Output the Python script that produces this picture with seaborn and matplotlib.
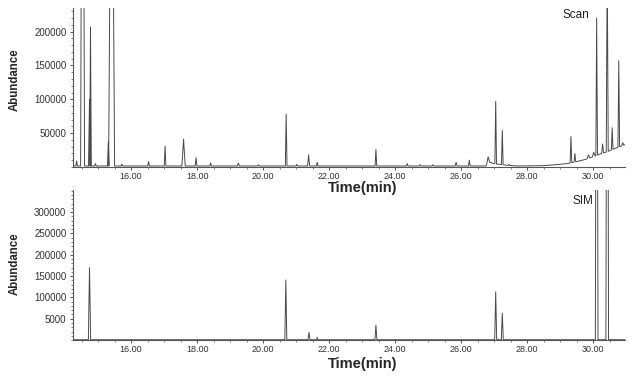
import numpy as np
import pandas as pd
import matplotlib
matplotlib.use("Agg")
import matplotlib.pyplot as plt
import seaborn as sns
from matplotlib.ticker import FixedLocator, FixedFormatter, MultipleLocator

# ---------------- data ----------------
# Scan trace: peak apex time (min), apex abundance, half width (min)
scan_peak_t = [14.35, 14.53, 14.74, 14.77, 14.92, 15.31, 15.41, 15.72, 16.53, 17.03,
               17.59, 17.97, 18.41, 19.25, 19.86, 20.70, 21.02, 21.38, 21.64, 23.42,
               24.37, 24.76, 25.14, 25.85, 26.25, 26.82, 27.05, 27.25, 27.45, 29.33,
               29.45, 29.86, 30.02, 30.11, 30.29, 30.43, 30.58, 30.78, 30.90]
scan_peak_h = [9000, 900000, 100000, 207000, 5000, 37000, 700000, 4000, 8000, 31000,
               41000, 14000, 6000, 6000, 3500, 78000, 4000, 18000, 7000, 26000,
               5000, 3500, 3500, 7000, 10000, 15000, 97000, 54000, 4000, 45000,
               20000, 18000, 22000, 220000, 34000, 300000, 58000, 157000, 36000]
scan_peak_w = [0.025, 0.06, 0.03, 0.025, 0.025, 0.025, 0.09, 0.025, 0.025, 0.025,
               0.05, 0.025, 0.025, 0.03, 0.025, 0.025, 0.025, 0.03, 0.025, 0.025,
               0.025, 0.025, 0.025, 0.03, 0.025, 0.05, 0.025, 0.025, 0.025, 0.025,
               0.025, 0.04, 0.04, 0.025, 0.03, 0.03, 0.025, 0.025, 0.03]
# Scan baseline drift
scan_base_t = [14.23, 26.75, 26.87, 27.0, 27.4, 27.7, 28.5, 28.9, 29.2, 29.5,
               29.75, 30.0, 30.2, 30.4, 30.6, 30.8, 30.97]
scan_base_y = [1500, 1500, 7000, 5000, 2500, 1500, 2000, 3500, 5000, 8000,
               11000, 15000, 19000, 22000, 26000, 30000, 33000]

# SIM trace
sim_peak_t = [14.74, 20.69, 21.39, 21.64, 23.42, 27.05, 27.25, 30.11, 30.43]
sim_peak_h = [170000, 141000, 18000, 6000, 35000, 113000, 63000, 1500000, 1500000]
sim_peak_w = [0.035, 0.03, 0.03, 0.025, 0.03, 0.03, 0.03, 0.04, 0.04]
sim_base_t = [14.23, 30.97]
sim_base_y = [800, 800]

x_ticks = [16, 18, 20, 22, 24, 26, 28, 30]
x_labels = ["16.00", "18.00", "20.00", "22.00", "24.00", "26.00", "28.00", "30.00"]
scan_yticks = [50000, 100000, 150000, 200000]
scan_ylabels = ["50000", "100000", "150000", "200000"]
sim_yticks = [50000, 100000, 150000, 200000, 250000, 300000]
sim_ylabels = ["5000", "100000", "150000", "200000", "250000", "300000"]


def build_trace(pt, ph, pw, bt, by):
    # each peak becomes foot - apex - foot on top of the baseline
    rows = []
    for t, y in zip(bt, by):
        if all(abs(t - c) > w for c, w in zip(pt, pw)):
            rows.append((t, t, y))
    for c, h, w in zip(pt, ph, pw):
        rows.append((c - 1e-6, c - w, np.interp(c - w, bt, by)))
        rows.append((c, c, h))
        rows.append((c + 1e-6, c + w, np.interp(c + w, bt, by)))
    rows.sort(key=lambda r: r[0])
    return pd.DataFrame({"time": [r[1] for r in rows], "abundance": [r[2] for r in rows]})


scan_df = build_trace(scan_peak_t, scan_peak_h, scan_peak_w, scan_base_t, scan_base_y)
sim_df = build_trace(sim_peak_t, sim_peak_h, sim_peak_w, sim_base_t, sim_base_y)

sns.set_style("ticks")
plt.rcParams["font.family"] = ["Liberation Sans", "DejaVu Sans"]

fig = plt.figure(figsize=(6.32, 3.77), dpi=100)
ax1 = fig.add_axes([0.115, 0.557, 0.874, 0.422])
ax2 = fig.add_axes([0.115, 0.098, 0.874, 0.398])

line_col = "#4a4a4a"
for ax, df, top, yt, yl in [(ax1, scan_df, 235000, scan_yticks, scan_ylabels),
                            (ax2, sim_df, 352000, sim_yticks, sim_ylabels)]:
    sns.lineplot(data=df, x="time", y="abundance", ax=ax, sort=False,
                 estimator=None, color=line_col, lw=0.7)
    ax.set_xlim(14.23, 30.97)
    ax.set_ylim(0, top)
    ax.xaxis.set_major_locator(FixedLocator(x_ticks))
    ax.xaxis.set_major_formatter(FixedFormatter(x_labels))
    ax.xaxis.set_minor_locator(MultipleLocator(0.5))
    ax.yaxis.set_major_locator(FixedLocator(yt))
    ax.yaxis.set_major_formatter(FixedFormatter(yl))
    ax.yaxis.set_minor_locator(MultipleLocator(10000))
    ax.tick_params(axis="x", which="major", labelsize=6.5, length=2.5, width=0.6, pad=1,
                   colors="#333333")
    ax.tick_params(axis="y", which="major", labelsize=7, length=2.5, width=0.6, pad=2,
                   colors="#333333")
    ax.tick_params(which="minor", length=1.5, width=0.5, colors="#555555")
    for s in ["top", "right"]:
        ax.spines[s].set_visible(False)
    for s in ["left", "bottom"]:
        ax.spines[s].set_color("#555555")
        ax.spines[s].set_linewidth(0.8)
    ax.set_xlabel("")
    ax.set_ylabel("")

ax1.text(0.935, 0.955, "Scan", transform=ax1.transAxes, ha="right", va="center",
         fontsize=8.5, color="#222222")
ax2.text(0.943, 0.93, "SIM", transform=ax2.transAxes, ha="right", va="center",
         fontsize=8.5, color="#222222")

fig.text(363 / 632, 1 - 188 / 377, "Time(min)", ha="center", va="center",
         fontsize=10.5, fontweight="bold")
fig.text(363 / 632, 1 - 364 / 377, "Time(min)", ha="center", va="center",
         fontsize=10.5, fontweight="bold")
fig.text(15 / 632, 1 - 80 / 377, "Abundance", ha="center", va="center",
         rotation=90, fontsize=8.3, fontweight="bold")
fig.text(15 / 632, 1 - 264 / 377, "Abundance", ha="center", va="center",
         rotation=90, fontsize=8.3, fontweight="bold")

fig.savefig("out.png", dpi=100)
